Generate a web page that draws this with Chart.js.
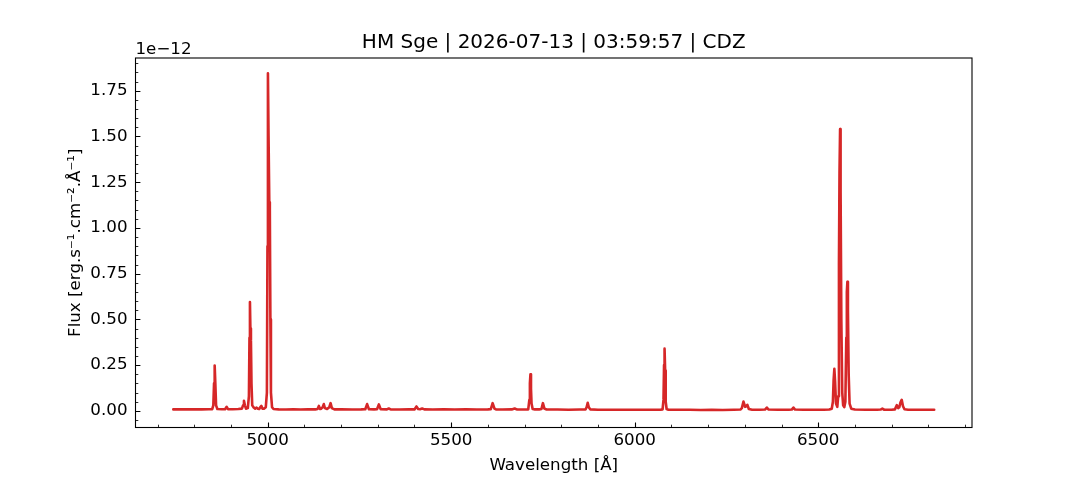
<!DOCTYPE html>
<html>
<head>
<meta charset="utf-8">
<script src="https://cdn.jsdelivr.net/npm/chart.js@4/dist/chart.umd.min.js"></script>
<style>
  html, body { margin: 0; padding: 0; background: #fff; }
  #wrap { width: 1080px; height: 480px; position: relative; }
</style>
</head>
<body>
<div id="wrap"><canvas id="c"></canvas></div>
<script>
// ---- Data (wavelength in Å, flux in units of 1e-12 erg/s/cm²/Å) ----
const wavelength = [
  4743, 4760, 4780, 4800, 4820, 4840, 4849, 4852, 4854, 4855.7, 4857.5, 4859.5, 4863, 4875,
  4884, 4888.4, 4892, 4905, 4920, 4930, 4933, 4935.5, 4938, 4941, 4946, 4949, 4950.5, 4951.8,
  4953, 4954.5, 4956, 4958, 4962, 4966, 4970, 4973, 4977, 4980, 4983, 4986, 4990, 4995, 4998,
  4999.5, 5000.8, 5002.5, 5004.5, 5006, 5007.5, 5009, 5012, 5016, 5030, 5050, 5070, 5090, 5110,
  5130, 5136, 5139.6, 5143, 5146, 5150, 5153, 5156, 5162, 5168, 5171.5, 5175, 5182, 5200, 5230,
  5255, 5266, 5271, 5276, 5290, 5298, 5303, 5308, 5325, 5330, 5335, 5360, 5385, 5400, 5405.5,
  5410, 5415, 5421, 5427, 5450, 5480, 5510, 5540, 5570, 5600, 5608, 5613, 5618, 5622, 5640,
  5665, 5673, 5680, 5700, 5710, 5713, 5714.5, 5716, 5717.5, 5719, 5722, 5728, 5740, 5746, 5750,
  5754, 5760, 5790, 5820, 5850, 5866, 5869, 5872, 5875, 5879, 5900, 5930, 5960, 5990, 6020,
  6050, 6070, 6076, 6078.5, 6080, 6081.4, 6083, 6084.5, 6087, 6092, 6120, 6150, 6180, 6210,
  6240, 6270, 6288, 6292, 6296.4, 6301, 6304, 6307, 6311, 6320, 6340, 6355, 6360, 6365, 6390,
  6420, 6428, 6432.5, 6437, 6460, 6490, 6515, 6530, 6537, 6540, 6542, 6544, 6546, 6548.5, 6552,
  6554.5, 6556.5, 6558, 6559.6, 6561, 6563, 6565.5, 6568, 6571, 6574, 6576.5, 6578, 6579.5,
  6581, 6583, 6585.5, 6590, 6600, 6630, 6660, 6670, 6674.7, 6680, 6700, 6709, 6714, 6718, 6721,
  6724, 6727.5, 6731, 6735, 6745, 6770, 6795, 6816
];
const flux = [
  0.008, 0.009, 0.008, 0.009, 0.008, 0.009, 0.009, 0.03, 0.15, 0.248, 0.15, 0.03, 0.01, 0.009,
  0.009, 0.022, 0.009, 0.009, 0.01, 0.012, 0.03, 0.055, 0.03, 0.012, 0.015, 0.08, 0.4, 0.595,
  0.45, 0.385, 0.15, 0.03, 0.018, 0.012, 0.018, 0.012, 0.01, 0.02, 0.027, 0.012, 0.012, 0.02, 0.1,
  0.9, 1.845, 1.5, 1.14, 1.1, 0.5, 0.1, 0.02, 0.01, 0.008, 0.007, 0.008, 0.007, 0.008,
  0.008, 0.01, 0.027, 0.01, 0.012, 0.02, 0.037, 0.015, 0.01, 0.02, 0.042, 0.015, 0.008, 0.008, 0.007,
  0.008, 0.009, 0.037, 0.009, 0.008, 0.009, 0.035, 0.009, 0.008, 0.013, 0.008, 0.007, 0.008, 0.008, 0.024,
  0.01, 0.009, 0.013, 0.008, 0.007, 0.008, 0.007, 0.008, 0.007, 0.008, 0.009, 0.042, 0.012, 0.008, 0.007,
  0.008, 0.013, 0.007, 0.007, 0.008, 0.06, 0.15, 0.2, 0.12, 0.04, 0.01, 0.008, 0.008, 0.01, 0.042,
  0.012, 0.007, 0.007, 0.006, 0.007, 0.007, 0.02, 0.044, 0.02, 0.008, 0.006, 0.006, 0.006, 0.006, 0.006,
  0.006, 0.006, 0.008, 0.06, 0.25, 0.34, 0.22, 0.05, 0.01, 0.006, 0.006, 0.006, 0.005, 0.006,
  0.005, 0.006, 0.007, 0.015, 0.051, 0.022, 0.025, 0.033, 0.01, 0.006, 0.006, 0.007, 0.018, 0.007, 0.006,
  0.006, 0.007, 0.018, 0.007, 0.006, 0.006, 0.006, 0.007, 0.012, 0.05, 0.17, 0.23, 0.16, 0.04, 0.022,
  0.08, 0.8, 1.3, 1.54, 1.2, 0.5, 0.1, 0.03, 0.02, 0.05, 0.4, 0.65, 0.706,
  0.55, 0.2, 0.04, 0.012, 0.007, 0.006, 0.006, 0.007, 0.012, 0.006, 0.006, 0.008, 0.031, 0.015, 0.02,
  0.045, 0.06, 0.025, 0.009, 0.006, 0.006, 0.006, 0.006
];
const xTickValues = [5000, 5500, 6000, 6500];
const yTickValues = [0.00, 0.25, 0.50, 0.75, 1.00, 1.25, 1.50, 1.75];
const titleText = "HM Sge | 2026-07-13 | 03:59:57 | CDZ";
const xLabel = "Wavelength [Å]";
const yLabel = "Flux [erg.s⁻¹.cm⁻².Å⁻¹]";
const yOffsetText = "1e\u221212";

const FONT = "'DejaVu Sans', sans-serif";
const FS = 16.7;
Chart.defaults.font.family = FONT;
Chart.defaults.color = '#000';

const points = wavelength.map((w, i) => ({ x: w, y: flux[i] }));

const axesDecor = {
  id: 'axesDecor',
  afterDatasetsDraw(chart) {
    const { ctx, chartArea: a, scales: { x, y } } = chart;
    ctx.save();
    ctx.strokeStyle = '#000';
    // minor ticks
    ctx.lineWidth = 0.83;
    ctx.beginPath();
    for (let v = 4700; v <= 6900; v += 100) {
      if (v % 500 === 0) continue;
      const px = Math.round(x.getPixelForValue(v)) + 0.5;
      ctx.moveTo(px, a.bottom); ctx.lineTo(px, a.bottom - 2.8);
    }
    for (let k = -1; k <= 38; k++) {
      if (k % 5 === 0) continue;
      const v = k * 0.05;
      if (v < y.min || v > y.max) continue;
      const py = Math.round(y.getPixelForValue(v)) + 0.5;
      ctx.moveTo(a.left, py); ctx.lineTo(a.left + 2.8, py);
    }
    ctx.stroke();
    // major ticks
    ctx.lineWidth = 1.1;
    ctx.beginPath();
    xTickValues.forEach(v => {
      const px = Math.round(x.getPixelForValue(v)) + 0.5;
      ctx.moveTo(px, a.bottom); ctx.lineTo(px, a.bottom - 4.9);
    });
    yTickValues.forEach(v => {
      const py = Math.round(y.getPixelForValue(v)) + 0.5;
      ctx.moveTo(a.left, py); ctx.lineTo(a.left + 4.9, py);
    });
    ctx.stroke();
    // frame
    ctx.lineWidth = 1.1;
    ctx.strokeRect(a.left, a.top, a.right - a.left, a.bottom - a.top);
    // offset text
    ctx.fillStyle = '#000';
    ctx.font = FS + "px " + FONT;
    ctx.textAlign = 'left';
    ctx.textBaseline = 'alphabetic';
    ctx.fillText(yOffsetText, a.left, 53.5);
    ctx.restore();
  }
};

new Chart(document.getElementById('c'), {
  type: 'line',
  data: {
    datasets: [{
      data: points,
      borderColor: '#d62728',
      borderWidth: 2.6,
      borderJoinStyle: 'round',
      borderCapStyle: 'round',
      pointRadius: 0,
      tension: 0,
      fill: false
    }]
  },
  options: {
    responsive: true,
    maintainAspectRatio: false,
    animation: false,
    layout: { padding: { left: 0, right: 108, top: 0, bottom: 0 } },
    plugins: {
      legend: { display: false },
      tooltip: { enabled: false },
      title: {
        display: true,
        text: titleText,
        fullSize: false,
        color: '#000',
        font: { size: 20, weight: 'normal', family: FONT, lineHeight: 1.2 },
        padding: { top: 30.5, bottom: 3.5 }
      }
    },
    scales: {
      x: {
        type: 'linear',
        min: 4640,
        max: 6919,
        grid: { display: false, drawTicks: false },
        border: { display: false },
        afterBuildTicks(s) { s.ticks = xTickValues.map(v => ({ value: v })); },
        afterFit(s) { s.height = 52.5; },
        ticks: {
          padding: 3,
          maxRotation: 0,
          autoSkip: false,
          font: { size: FS },
          color: '#000',
          callback: v => String(v)
        },
        title: {
          display: true,
          text: xLabel,
          color: '#000',
          font: { size: FS, lineHeight: 1.2 },
          padding: { top: 0, bottom: 4.5 }
        }
      },
      y: {
        type: 'linear',
        min: -0.091,
        max: 1.929,
        grid: { display: false, drawTicks: false },
        border: { display: false },
        afterBuildTicks(s) { s.ticks = yTickValues.map(v => ({ value: v })); },
        afterFit(s) { s.width = 135.5; },
        ticks: {
          padding: 8,
          autoSkip: false,
          font: { size: FS },
          color: '#000',
          callback: v => Number(v).toFixed(2)
        },
        title: {
          display: true,
          text: yLabel,
          color: '#000',
          font: { size: FS, lineHeight: 1.2 },
          padding: { top: 66, bottom: 0 }
        }
      }
    }
  },
  plugins: [axesDecor]
});
</script>
</body>
</html>
